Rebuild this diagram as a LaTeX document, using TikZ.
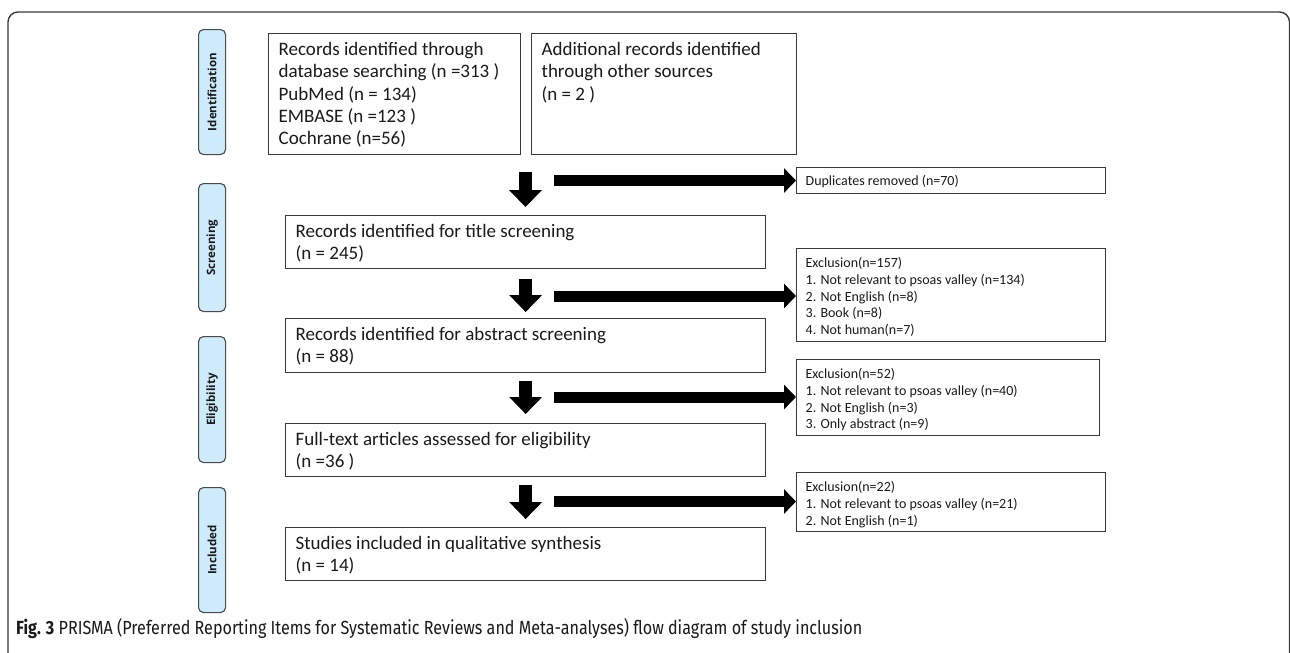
\documentclass[tikz,border=0pt]{standalone}
\usepackage{fontspec}
\usepackage{graphicx}
\usetikzlibrary{arrows.meta}
\setmainfont{Carlito}
\newfontfamily\labfont{Open Sans}
\newfontfamily\capfont[FakeStretch=0.85]{Fira Sans}
\definecolor{boxgray}{HTML}{3A3A3A}
\definecolor{labgray}{HTML}{4A4A4A}
\definecolor{labblue}{HTML}{CDEBFB}
\definecolor{txt}{HTML}{1A1A1A}
\newcommand\bigtext[3]{\begin{minipage}[c][#2][t]{#1}\fontsize{19}{22.2}\selectfont\rule{0pt}{22pt}#3\end{minipage}}
\newcommand\smalltext[4]{\begin{minipage}[c][#2][t]{#1}\fontsize{14}{16.7}\selectfont\rule{0pt}{#3}#4\end{minipage}}
\begin{document}
\begin{tikzpicture}[x=1pt,y=-1pt,
  box/.style={draw=boxgray, line width=1.3pt, anchor=north west, inner ysep=0pt, text=txt},
  bigbox/.style={box, inner xsep=10pt},
  smallbox/.style={box, inner xsep=9pt},
  lab/.style={draw=labgray, fill=labblue, line width=1.1pt, rounded corners=5pt,
    minimum width=27pt, anchor=north west, inner sep=0pt, text=txt},
  downarr/.style={line width=13pt, -{Triangle[width=32pt,length=17pt]}},
  sidearr/.style={line width=11pt, -{Triangle[width=24pt,length=12pt]}}
]
\useasboundingbox (0,0) rectangle (1290,653);
\clip (0,0) rectangle (1290,653);
\fill[white] (0,0) rectangle (1290,653);
\draw[boxgray, line width=1.4pt, rounded corners=10pt] (8,12) rectangle (1289.5,720);

% phase labels
\node[lab, minimum height=125pt] (lid) at (198,29) {\rotatebox{90}{\labfont\bfseries\fontsize{11.5}{13}\selectfont Identification}};
\node[lab, minimum height=128pt] (lsc) at (198,183) {\rotatebox{90}{\labfont\bfseries\fontsize{11.5}{13}\selectfont Screening}};
\node[lab, minimum height=126pt] (lel) at (198,336) {\rotatebox{90}{\labfont\bfseries\fontsize{11.5}{13}\selectfont Eligibility}};
\node[lab, minimum height=125pt] (lin) at (198,487) {\rotatebox{90}{\labfont\bfseries\fontsize{11.5}{13}\selectfont Included}};

% main boxes
\node[bigbox] (box1) at (268,33) {\bigtext{232pt}{121pt}{Records identified through\\database searching (n =313 )\\PubMed (n = 134)\\EMBASE (n =123 )\\Cochrane (n=56)}};
\node[bigbox] (box2) at (531,33) {\bigtext{245pt}{121pt}{Additional records identified\\through other sources\\(n = 2 )}};
\node[bigbox] (title) at (285,215) {\bigtext{460pt}{53pt}{Records identified for title screening\\(n = 245)}};
\node[bigbox] (abstr) at (285,318) {\bigtext{460pt}{54pt}{Records identified for abstract screening\\(n = 88)}};
\node[bigbox] (full) at (285,423) {\bigtext{460pt}{53pt}{Full-text articles assessed for eligibility\\(n =36 )}};
\node[bigbox] (stud) at (285,527) {\bigtext{460pt}{53pt}{Studies included in qualitative synthesis\\(n = 14)}};

% side boxes
\node[smallbox] (dup) at (796,167) {\smalltext{291pt}{26pt}{18pt}{Duplicates removed (n=70)}};
\node[smallbox] (ex1) at (796,248) {\smalltext{291pt}{93pt}{19pt}{Exclusion(n=157)\\1. Not relevant to psoas valley (n=134)\\2. Not English (n=8)\\3. Book (n=8)\\4. Not human(n=7)}};
\node[smallbox] (ex2) at (796,359) {\smalltext{285pt}{76pt}{19pt}{Exclusion(n=52)\\1. Not relevant to psoas valley (n=40)\\2. Not English (n=3)\\3. Only abstract (n=9)}};
\node[smallbox] (ex3) at (796,472) {\smalltext{291pt}{59pt}{19pt}{Exclusion(n=22)\\1. Not relevant to psoas valley (n=21)\\2. Not English (n=1)}};

% down arrows
\coordinate (a0) at (525.5,154);
\draw[downarr, shorten <=18pt, shorten >=8pt] (a0) -- (a0 |- title.north);
\draw[downarr, shorten <=10pt, shorten >=6pt] (title.south) -- (abstr.north);
\draw[downarr, shorten <=8pt, shorten >=9pt] (abstr.south) -- (full.north);
\draw[downarr, shorten <=8pt, shorten >=8pt] (full.south) -- (stud.north);

% side arrows
\coordinate (h1) at (554,180.5);
\coordinate (h2) at (554,296);
\coordinate (h3) at (554,397);
\coordinate (h4) at (554,501.5);
\draw[sidearr] (h1) -- (h1 -| dup.west);
\draw[sidearr] (h2) -- (h2 -| ex1.west);
\draw[sidearr] (h3) -- (h3 -| ex2.west);
\draw[sidearr] (h4) -- (h4 -| ex3.west);

% caption
\node[anchor=base west, inner sep=0pt, text=txt] (cap) at (16,634) {\resizebox{846pt}{!}{\capfont\fontsize{17}{20}\selectfont\textbf{Fig. 3} PRISMA (Preferred Reporting Items for Systematic Reviews and Meta-analyses) flow diagram of study inclusion}};
\end{tikzpicture}
\end{document}
